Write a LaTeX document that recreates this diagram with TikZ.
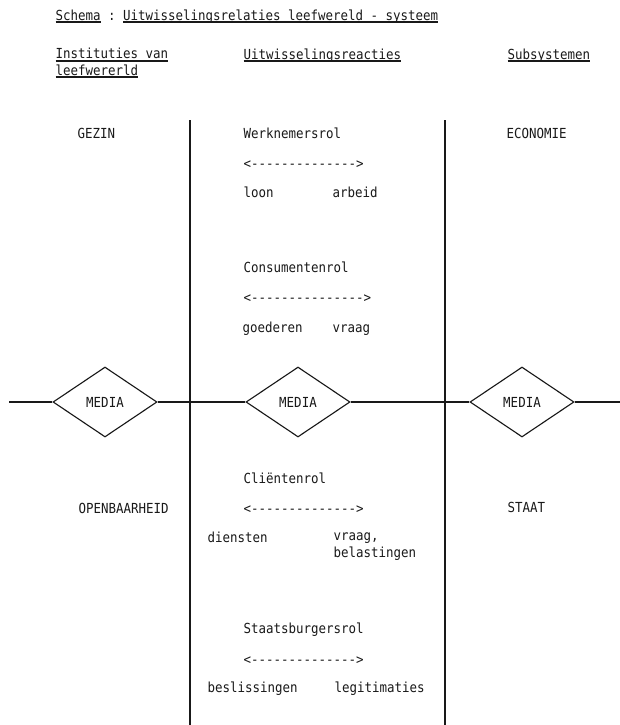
\documentclass[tikz,border=0pt]{standalone}
\usepackage{fontspec}
\setmonofont{DejaVu Sans Mono}[FakeStretch=0.9]
\usetikzlibrary{shapes.geometric}
\newcommand\onderstreep[1]{\setbox0\hbox{#1}\rlap{\rule[-1.8pt]{\wd0}{0.75pt}}\box0\relax}

\begin{document}
\begin{tikzpicture}[
  x=0.25mm, y=-0.25mm,
  line width=0.8pt,
  color=black!90,
  font=\ttfamily\fontsize{9.85}{11.4}\selectfont,
  tekst/.style={anchor=base west, inner sep=0, align=left},
  ruit/.style={draw, diamond, inner sep=0, minimum width=26mm, minimum height=17.5mm, fill=white}
  ]
  \useasboundingbox (0,0) rectangle (620,725);

  % koppen (bij twee regels telt de onderste basislijn)
  \node [tekst] (titel) at (55, 20) {\onderstreep{Schema} : \onderstreep{Uitwisselingsrelaties leefwereld - systeem}};
  \node [tekst] (kopLinks) at (55, 75) {\onderstreep{Instituties van}\\\onderstreep{leefwererld}};
  \node [tekst] (kopMidden) at (243, 59) {\onderstreep{Uitwisselingsreacties}};
  \node [tekst] (kopRechts) at (507, 59) {\onderstreep{Subsystemen}};

  % scheidingslijnen
  \draw (190, 120) -- (190, 725);
  \draw (445, 120) -- (445, 725);

  % leefwereld en subsystemen
  \node [tekst] (gezin) at (77, 138) {GEZIN};
  \node [tekst] (openbaarheid) at (78, 513) {OPENBAARHEID};
  \node [tekst] (economie) at (506, 138) {ECONOMIE};
  \node [tekst] (staat) at (507, 512) {STAAT};

  % rollen
  \node [tekst] (werknemer) at (243, 138) {Werknemersrol};
  \node [tekst] (pijlWerk) at (243, 168) {<-------------->};
  \node [tekst] (loon) at (243, 197) {loon};
  \node [tekst] (arbeid) at (332, 197) {arbeid};

  \node [tekst] (consument) at (243, 272) {Consumentenrol};
  \node [tekst] (pijlCons) at (243, 302) {<--------------->};
  \node [tekst] (goederen) at (242, 332) {goederen};
  \node [tekst] (vraagCons) at (332, 332) {vraag};

  \node [tekst] (client) at (243, 483) {Cliëntenrol};
  \node [tekst] (pijlClient) at (243, 513) {<-------------->};
  \node [tekst] (diensten) at (207, 542) {diensten};
  \node [tekst] (belastingen) at (333, 557) {vraag,\\belastingen};

  \node [tekst] (burger) at (243, 633) {Staatsburgersrol};
  \node [tekst] (pijlBurger) at (243, 664) {<-------------->};
  \node [tekst] (beslissingen) at (207, 692) {beslissingen};
  \node [tekst] (legitimaties) at (334, 692) {legitimaties};

  % media
  \coordinate (lijnBegin) at (9, 402);
  \coordinate (lijnEind) at (620, 402);
  \node [ruit] (mediaL) at (105, 402) {MEDIA};
  \node [ruit] (mediaM) at (298, 402) {MEDIA};
  \node [ruit] (mediaR) at (522, 402) {MEDIA};
  \draw (lijnBegin) -- (mediaL);
  \draw (mediaL) -- (mediaM);
  \draw (mediaM) -- (mediaR);
  \draw (mediaR) -- (lijnEind);

\end{tikzpicture}
\end{document}
